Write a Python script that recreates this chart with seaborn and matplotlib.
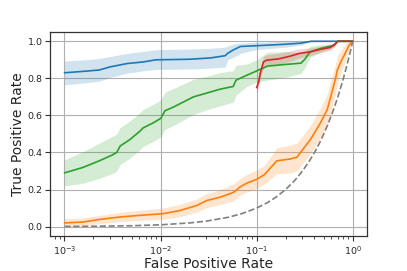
"""ROC 曲线（对数横轴）及置信带。"""

import matplotlib

matplotlib.use("Agg")
import matplotlib.pyplot as plt
import pandas as pd
import seaborn as sns

# 蓝色
blue_fpr = [0.001, 0.0016, 0.0023, 0.003, 0.0045, 0.0065, 0.009, 0.02, 0.033, 0.047, 0.05, 0.058, 0.068, 0.1, 0.2, 0.29, 0.37, 1.0]
blue_tpr = [0.83, 0.838, 0.845, 0.862, 0.88, 0.888, 0.90, 0.903, 0.91, 0.922, 0.935, 0.955, 0.972, 0.976, 0.984, 0.99, 1.0, 1.0]
blue_upper = [0.893, 0.90, 0.907, 0.918, 0.935, 0.945, 0.955, 0.958, 0.962, 0.968, 0.975, 0.985, 0.99, 0.995, 1.0, 1.0, 1.0, 1.0]
blue_lower = [0.765, 0.775, 0.785, 0.805, 0.828, 0.84, 0.848, 0.85, 0.855, 0.86, 0.90, 0.915, 0.935, 0.955, 0.968, 0.98, 0.998, 1.0]

# 橙色
orange_fpr = [0.001, 0.00155, 0.00232, 0.00376, 0.00608, 0.0106, 0.0159, 0.0238, 0.0303, 0.0417,
              0.0575, 0.0676, 0.0794, 0.1, 0.12, 0.141, 0.162, 0.224, 0.263, 0.286,
              0.363, 0.462, 0.543, 0.589, 0.664, 0.692, 0.75, 0.813, 0.879, 0.912, 1.0]
orange_tpr = [0.02, 0.025, 0.039, 0.052, 0.061, 0.07, 0.087, 0.114, 0.141, 0.159,
              0.185, 0.215, 0.235, 0.255, 0.28, 0.32, 0.355, 0.365, 0.375, 0.40,
              0.47, 0.56, 0.631, 0.70, 0.80, 0.845, 0.888, 0.923, 0.959, 0.977, 1.0]
orange_upper = [0.042, 0.047, 0.061, 0.077, 0.088, 0.10, 0.12, 0.149, 0.179, 0.199,
                0.23, 0.26, 0.283, 0.305, 0.33, 0.38, 0.425, 0.44, 0.45, 0.475,
                0.545, 0.64, 0.716, 0.785, 0.88, 0.92, 0.948, 0.973, 0.994, 1.0, 1.0]
orange_lower = [-0.002, 0.003, 0.017, 0.027, 0.034, 0.04, 0.054, 0.079, 0.103, 0.119,
                0.14, 0.17, 0.187, 0.205, 0.23, 0.26, 0.285, 0.29, 0.30, 0.325,
                0.395, 0.48, 0.546, 0.615, 0.72, 0.77, 0.828, 0.873, 0.924, 0.952, 1.0]

# 绿色
green_fpr = [0.001, 0.00155, 0.0023, 0.0031, 0.0035, 0.0038, 0.0048, 0.0061, 0.0066, 0.0084,
             0.0101, 0.0111, 0.0136, 0.022, 0.030, 0.042, 0.057, 0.061, 0.08, 0.1,
             0.13, 0.2, 0.29, 0.32, 0.36, 0.47, 0.64, 0.70, 1.0]
green_tpr = [0.29, 0.319, 0.355, 0.385, 0.40, 0.435, 0.47, 0.515, 0.533, 0.56,
             0.585, 0.625, 0.645, 0.70, 0.72, 0.742, 0.756, 0.79, 0.818, 0.84,
             0.866, 0.875, 0.882, 0.905, 0.943, 0.962, 0.978, 1.0, 1.0]
green_upper = [0.36, 0.404, 0.45, 0.485, 0.50, 0.535, 0.57, 0.615, 0.633, 0.66,
               0.685, 0.725, 0.745, 0.795, 0.81, 0.832, 0.841, 0.87, 0.878, 0.90,
               0.941, 0.945, 0.937, 0.95, 0.973, 0.982, 0.988, 1.0, 1.0]
green_lower = [0.22, 0.234, 0.26, 0.285, 0.30, 0.335, 0.37, 0.415, 0.433, 0.46,
               0.485, 0.525, 0.545, 0.605, 0.63, 0.652, 0.671, 0.71, 0.758, 0.78,
               0.791, 0.805, 0.827, 0.86, 0.913, 0.942, 0.968, 1.0, 1.0]

# 红色
red_fpr = [0.1, 0.105, 0.109, 0.118, 0.128, 0.17, 0.225, 0.275, 0.363, 0.45, 0.59, 0.664, 0.70, 1.0]
red_tpr = [0.75, 0.78, 0.827, 0.889, 0.898, 0.905, 0.92, 0.934, 0.943, 0.955, 0.967, 0.988, 1.0, 1.0]
red_upper = [0.78, 0.81, 0.857, 0.919, 0.928, 0.935, 0.948, 0.959, 0.963, 0.973, 0.982, 0.996, 1.0, 1.0]
red_lower = [0.72, 0.75, 0.797, 0.859, 0.868, 0.875, 0.892, 0.909, 0.923, 0.937, 0.952, 0.98, 1.0, 1.0]

# 随机猜测基线
chance_fpr = [0.001, 0.002, 0.005, 0.01, 0.02, 0.03, 0.05, 0.07, 0.1, 0.13, 0.16, 0.2, 0.25, 0.3,
              0.35, 0.4, 0.45, 0.5, 0.55, 0.6, 0.65, 0.7, 0.75, 0.8, 0.85, 0.9, 0.95, 1.0]
chance_tpr = [0.001, 0.002, 0.005, 0.01, 0.02, 0.03, 0.05, 0.07, 0.1, 0.13, 0.16, 0.2, 0.25, 0.3,
              0.35, 0.4, 0.45, 0.5, 0.55, 0.6, 0.65, 0.7, 0.75, 0.8, 0.85, 0.9, 0.95, 1.0]

y_ticks = [0.0, 0.2, 0.4, 0.6, 0.8, 1.0]

sns.set_theme(style="ticks", rc={"axes.grid": True, "grid.color": "#b0b0b0", "grid.linewidth": 0.8})
plt.rcParams["font.family"] = ["DejaVu Sans"]
plt.rcParams["axes.edgecolor"] = "#333333"
plt.rcParams["axes.linewidth"] = 0.9

fig = plt.figure(figsize=(4.07, 2.71), dpi=100)
ax = fig.add_axes([0.123, 0.128, 0.779, 0.754])

series = [
    (blue_fpr, blue_tpr, blue_lower, blue_upper, "#1f77b4"),
    (orange_fpr, orange_tpr, orange_lower, orange_upper, "#ff7f0e"),
    (green_fpr, green_tpr, green_lower, green_upper, "#2ca02c"),
    (red_fpr, red_tpr, red_lower, red_upper, "#d62728"),
]
for fpr, tpr, lo, hi, color in series:
    df = pd.DataFrame({"fpr": fpr, "tpr": tpr})
    ax.fill_between(fpr, lo, hi, color=color, alpha=0.2, linewidth=0)
    sns.lineplot(data=df, x="fpr", y="tpr", ax=ax, color=color, linewidth=1.2,
                 estimator=None, sort=False)

chance_df = pd.DataFrame({"fpr": chance_fpr, "tpr": chance_tpr})
sns.lineplot(data=chance_df, x="fpr", y="tpr", ax=ax, color="#808080", linewidth=1.2,
             linestyle="--", estimator=None, sort=False)

ax.set_xscale("log")
ax.set_yticks(y_ticks)
ax.set_xlabel("False Positive Rate", fontsize=10, labelpad=0.5)
ax.set_ylabel("True Positive Rate", fontsize=10, labelpad=2)
ax.tick_params(axis="both", which="major", labelsize=6.8, length=3.5, width=0.8, pad=2, color="#333333")
ax.tick_params(axis="x", which="minor", length=2, width=0.6, color="#333333")
ax.grid(True, which="major")
ax.grid(False, which="minor")
ax.margins(x=0.05, y=0.05)

fig.savefig("out.png", dpi=100)
